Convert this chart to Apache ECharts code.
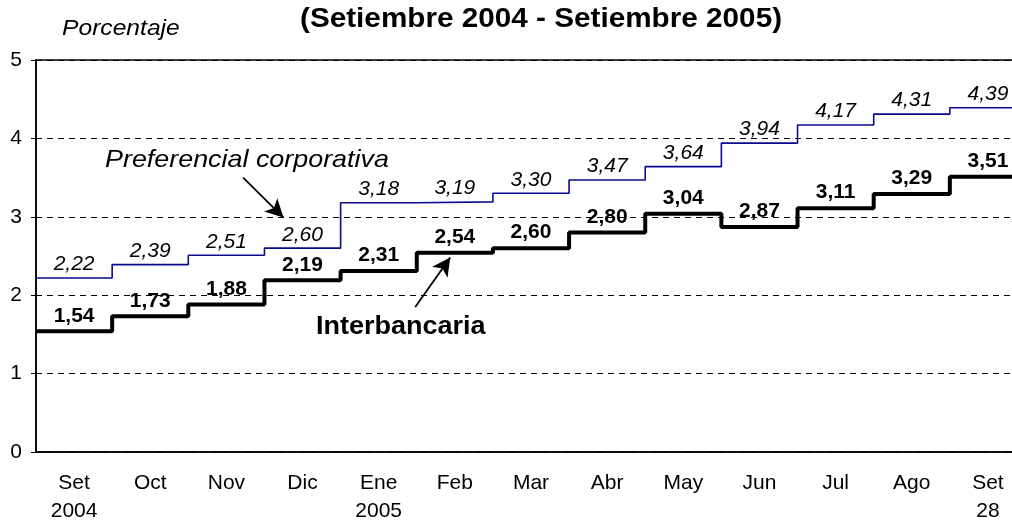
<!DOCTYPE html>
<html>
<head>
<meta charset="utf-8">
<script src="https://cdn.jsdelivr.net/npm/echarts@6/dist/echarts.min.js"></script>
<style>html,body{margin:0;padding:0;background:#fff}#c{width:1012px;height:522px}</style>
</head>
<body>
<div id="c"></div>
<script>
var months = ['Set\n2004','Oct','Nov','Dic','Ene\n2005','Feb','Mar','Abr','May','Jun','Jul','Ago','Set\n28'];
var interbancaria = [1.54,1.73,1.88,2.19,2.31,2.54,2.60,2.80,3.04,2.87,3.11,3.29,3.51];
var preferencial = [2.22,2.39,2.51,2.60,3.18,3.19,3.30,3.47,3.64,3.94,4.17,4.31,4.39];
var yTicks = [0,1,2,3,4,5];

var FONT = 'Liberation Sans, Arial, sans-serif';
function stepData(arr){
  var d = arr.map(function(v,i){return [i,v];});
  d.push([arr.length, arr[arr.length-1]]);
  return d;
}
function labelData(arr){
  return arr.map(function(v,i){return [i+0.5,v];});
}
function fmt(v){return v.toFixed(2).replace('.',',');}

var chart = echarts.init(document.getElementById('c'), null, {renderer:'canvas'});
var option = {
  animation:false,
  backgroundColor:'#fff',
  grid:{left:36, top:60, width:990, height:392, containLabel:false, outerBoundsMode:'none',
    show:true, borderColor:'#000', borderWidth:1.5, backgroundColor:'transparent'},
  xAxis:[{
    type:'category', data:months, boundaryGap:true, position:'bottom',
    axisLine:{show:true, lineStyle:{color:'#000', width:1.5}},
    axisTick:{show:false},
    axisLabel:{color:'#000', fontFamily:FONT, fontSize:21, lineHeight:28, margin:17, interval:0},
    splitLine:{show:false}
  },{
    type:'value', min:0, max:months.length, position:'top', show:false
  }],
  yAxis:{
    type:'value', min:yTicks[0], max:yTicks[yTicks.length-1], interval:1,
    axisLine:{show:true, lineStyle:{color:'#000', width:1.5}},
    axisTick:{show:true, length:5, lineStyle:{color:'#000', width:1}},
    axisLabel:{color:'#000', fontFamily:FONT, fontSize:21, margin:14},
    splitLine:{show:true, lineStyle:{color:'#000', type:[6,5], width:1}}
  },
  series:[{
    name:'Preferencial corporativa', type:'line', xAxisIndex:1, step:'end',
    data:stepData(preferencial), symbol:'none',
    lineStyle:{color:'#0a0a90', width:1.6}, z:3
  },{
    name:'Interbancaria', type:'line', xAxisIndex:1, step:'end',
    data:stepData(interbancaria), symbol:'none',
    lineStyle:{color:'#000', width:4}, z:4,
    markLine:{
      silent:true, symbol:['none','arrow'], symbolSize:[14,18],
      lineStyle:{color:'#000', width:1.8, type:'solid'}, label:{show:false},
      data:[
        [{coord:[2.72,3.50]},{coord:[3.25,2.99]}],
        [{coord:[4.98,1.85]},{coord:[5.44,2.48]}]
      ]
    }
  },{
    type:'scatter', xAxisIndex:1, data:labelData(preferencial), symbolSize:0, z:5,
    itemStyle:{opacity:1},
    label:{show:true, position:'top', distance:3, color:'#000', fontFamily:FONT, fontStyle:'italic', fontSize:21,
      formatter:function(p){return fmt(p.value[1]);}}
  },{
    type:'scatter', xAxisIndex:1, data:labelData(interbancaria), symbolSize:0, z:5,
    itemStyle:{opacity:1},
    label:{show:true, position:'top', distance:5, color:'#000', fontFamily:FONT, fontWeight:'bold', fontSize:21,
      formatter:function(p){return fmt(p.value[1]);}}
  }],
  graphic:[
    {type:'text', x:300, y:6, scaleX:1.1, style:{text:'(Setiembre 2004 - Setiembre 2005)', font:'bold 27px '+FONT, fill:'#000'}},
    {type:'text', x:62, y:18, scaleX:1.12, style:{text:'Porcentaje', font:'italic 22px '+FONT, fill:'#000'}},
    {type:'text', x:105, y:148, scaleX:1.12, style:{text:'Preferencial corporativa', font:'italic 24px '+FONT, fill:'#000'}},
    {type:'text', x:316, y:315, scaleX:1.08, style:{text:'Interbancaria', font:'bold 25px '+FONT, fill:'#000'}}
  ]
};
chart.setOption(option);
</script>
</body>
</html>
